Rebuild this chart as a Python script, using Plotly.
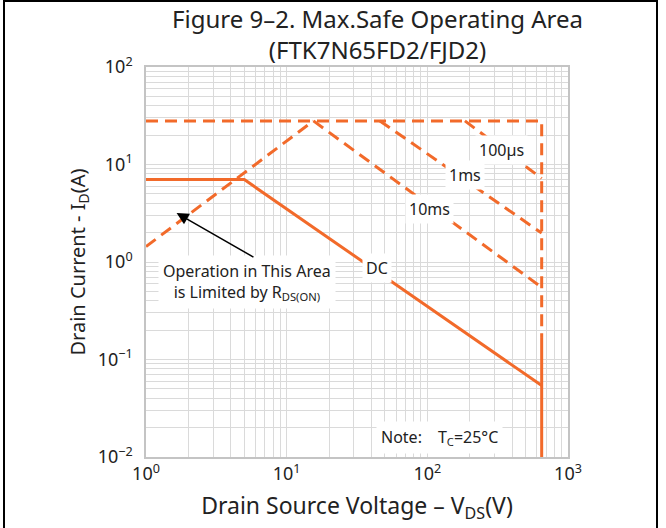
import numpy as np
import plotly.graph_objects as go

# ---------------- data ----------------
ORANGE = "#F26A2A"

# Envelope: max pulsed current line and drain-voltage limit
env_v = [1, 650, 650]
env_i = [28, 28, 0.17]
vlim_v = [650, 650]
vlim_i = [0.17, 0.01]

# R_DS(on) limit line
rds_v = [1, 15.5]
rds_i = [1.44, 28]

# pulse lines
p10ms_v = [15.5, 650]
p10ms_i = [28, 0.55]
p1ms_v = [46, 650]
p1ms_i = [28, 1.98]
p100us_v = [185, 650]
p100us_i = [28, 7.2]

# DC line
dc_v = [1, 5, 650]
dc_i = [7, 7, 0.054]

# tick labels
x_decades = [1, 10, 100, 1000]
x_ticktext = ["10<sup>0</sup>", "10<sup>1</sup>", "10<sup>2</sup>", "10<sup>3</sup>"]
y_decades = [0.01, 0.1, 1, 10, 100]
y_ticktext = ["10<sup>\u22122</sup>", "10<sup>\u22121</sup>", "10<sup>0</sup>", "10<sup>1</sup>", "10<sup>2</sup>"]

FONT = "Noto Sans"
TXT = "#222222"


def minor_vals(decs):
    vals = []
    for d in decs[:-1]:
        for m in range(2, 10):
            vals.append(d * m)
    return vals


fig = go.Figure()
dash = "12px,7px"
lw = 3
for vx, iy, d in [
    (env_v, env_i, dash),
    (rds_v, rds_i, dash),
    (p10ms_v, p10ms_i, dash),
    (p1ms_v, p1ms_i, dash),
    (p100us_v, p100us_i, dash),
    (dc_v, dc_i, "solid"),
    (vlim_v, vlim_i, "solid"),
]:
    fig.add_trace(go.Scatter(x=vx, y=iy, mode="lines",
                             line=dict(color=ORANGE, width=lw, dash=d),
                             showlegend=False, hoverinfo="skip"))

L, R, T, B = 146, 98, 67, 71
W, H = 666, 528
pw, ph = W - L - R, H - T - B


def px(xpix):
    return (xpix - L) / pw


def py(ypix):
    return (H - B - ypix) / ph


lab_font = dict(family=FONT, size=16, color=TXT)
anns = []
for text, lx, ly in [
    ("100\u00b5s", 2.528, 1.149),
    ("1ms", 2.267, 0.892),
    ("10ms", 2.018, 0.544),
    ("DC", 1.640, -0.062),
]:
    anns.append(dict(x=lx, y=ly, xref="x", yref="y", text=text, showarrow=False,
                     font=lab_font, bgcolor="white", borderpad=3))
anns.append(dict(x=0.716, y=-0.202, xref="x", yref="y",
                 text="Operation in This Area<br>is Limited by R<sub>DS(ON)</sub>",
                 showarrow=False, font=lab_font, bgcolor="white", borderpad=4))
anns.append(dict(x=np.log10(1.65), y=np.log10(3.18), xref="x", yref="y",
                 ax=np.log10(5.95), ay=np.log10(1.10), axref="x", ayref="y",
                 text="", showarrow=True, arrowhead=2, arrowsize=1.6,
                 arrowwidth=1.5, arrowcolor="black"))
anns.append(dict(x=2.09, y=-1.795, xref="x", yref="y",
                 text="Note:\u2003T<sub>C</sub>=25\u00b0C", showarrow=False,
                 font=lab_font, bgcolor="white", borderpad=4))
# title (two lines)
anns.append(dict(x=px(377), y=py(34), xref="paper", yref="paper",
                 text="Figure 9\u20132. Max.Safe Operating Area<br>(FTK7N65FD2/FJD2)",
                 showarrow=False, align="center",
                 font=dict(family=FONT, size=24, color=TXT), yanchor="middle"))

shapes = [
    dict(type="line", xref="paper", yref="paper", x0=px(4), x1=px(4), y0=py(0), y1=py(H),
         line=dict(color="black", width=2)),
    dict(type="line", xref="paper", yref="paper", x0=px(657), x1=px(657), y0=py(0), y1=py(H),
         line=dict(color="black", width=2)),
    dict(type="line", xref="paper", yref="paper", x0=px(4), x1=px(657), y0=py(1), y1=py(1),
         line=dict(color="black", width=2)),
]

GRID = "#dadada"
axis_common = dict(type="log", showgrid=True, gridcolor=GRID, gridwidth=1,
                   showline=True, linecolor="#c4c4c4", linewidth=1.5, mirror=True,
                   ticks="", zeroline=False, tickfont=dict(family=FONT, size=18, color=TXT))

fig.update_layout(
    width=W, height=H, margin=dict(l=L, r=R, t=T, b=B, autoexpand=False),
    paper_bgcolor="white", plot_bgcolor="white",
    xaxis=dict(range=[0, 3], tickmode="array", tickvals=x_decades, ticktext=x_ticktext,
               minor=dict(tickmode="array", tickvals=minor_vals(x_decades), showgrid=True,
                          gridcolor=GRID, gridwidth=1, ticks=""),
               title=dict(text="Drain Source Voltage \u2013 V<sub>DS</sub>(V)",
                          font=dict(family=FONT, size=23, color=TXT), standoff=14),
               **axis_common),
    yaxis=dict(range=[-2, 2], tickmode="array", tickvals=y_decades, ticktext=y_ticktext,
               minor=dict(tickmode="array", tickvals=minor_vals(y_decades), showgrid=True,
                          gridcolor=GRID, gridwidth=1, ticks=""),
               ticklabelstandoff=8,
               title=dict(text="Drain Current - I<sub>D</sub>(A)",
                          font=dict(family=FONT, size=20, color=TXT), standoff=7),
               **axis_common),
    annotations=anns, shapes=shapes,
)

fig.write_html("out.html")
